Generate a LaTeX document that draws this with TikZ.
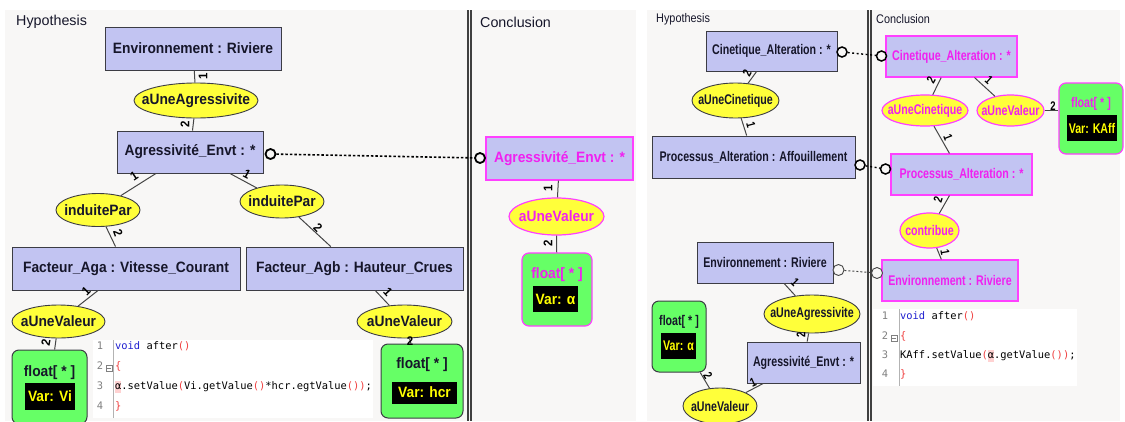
\documentclass[tikz,border=0pt]{standalone}
\usepackage{fontspec}
\setmainfont{Liberation Sans}
\setmonofont{DejaVu Sans Mono}
\newfontfamily\lfont[FakeStretch=0.92]{Liberation Sans}
\newfontfamily\rfont[FakeStretch=0.76]{Liberation Sans}
\newfontfamily\rlab[FakeStretch=0.87]{Liberation Sans}
\usetikzlibrary{shapes.geometric}
\definecolor{panel}{HTML}{F8F7F6}
\definecolor{boxfill}{HTML}{C2C4F2}
\definecolor{bdark}{HTML}{3C3C44}
\definecolor{tdark}{HTML}{16162A}
\definecolor{yel}{HTML}{FFFF3A}
\definecolor{grn}{HTML}{66FF66}
\definecolor{mag}{HTML}{FF40FF}
\definecolor{magtext}{HTML}{F020F0}
\definecolor{varyel}{HTML}{FFFF00}
\definecolor{bline}{HTML}{454545}
\definecolor{cblue}{HTML}{2020D0}
\definecolor{cred}{HTML}{F04040}
\definecolor{hlpink}{HTML}{FFD2D2}
\definecolor{lnum}{HTML}{808080}
\definecolor{sepcol}{HTML}{404040}
\newcommand{\zc}[1]{\makebox[0pt][c]{#1}}
\newcommand{\hlc}[1]{{\setlength{\fboxsep}{0pt}\colorbox{hlpink}{\rule[-3pt]{0pt}{12pt}#1}}}
\begin{document}
\begin{tikzpicture}[x=1pt,y=-1pt,
  hypbox/.style={rectangle, draw=bdark, fill=boxfill, line width=0.9pt, inner sep=0pt, text=tdark, font=\lfont\bfseries\fontsize{15}{18}\selectfont},
  rhypbox/.style={hypbox, font=\rfont\bfseries\fontsize{14}{17}\selectfont},
  conbox/.style={draw=mag, line width=1.2pt, text=magtext},
  hypell/.style={ellipse, draw=bdark, fill=yel, line width=0.9pt, inner sep=0pt, text=tdark, font=\lfont\bfseries\fontsize{15}{18}\selectfont},
  rhypell/.style={hypell, font=\rfont\bfseries\fontsize{14}{17}\selectfont},
  conell/.style={draw=mag, line width=1.2pt, text=magtext},
  flbox/.style={rectangle, rounded corners=7pt, draw=bdark, fill=grn, line width=1pt, inner sep=0pt},
  fltext/.style={inner sep=0pt, text=tdark, font=\lfont\bfseries\fontsize{15}{18}\selectfont},
  rfltext/.style={fltext, font=\rfont\bfseries\fontsize{14}{17}\selectfont},
  varbox/.style={rectangle, fill=black, text=varyel, inner sep=0pt, font=\lfont\bfseries\fontsize{15}{18}\selectfont},
  rvarbox/.style={varbox, font=\rfont\bfseries\fontsize{14}{17}\selectfont},
  port/.style={circle, draw=black, fill=panel, line width=1.8pt, minimum size=10pt, inner sep=0pt},
  rport/.style={port, line width=1.5pt},
  gport/.style={port, draw=bline, line width=0.9pt, minimum size=11pt},
  conn/.style={draw=bline, line width=1pt},
  dotL/.style={draw=black, line width=1.6pt, dash pattern=on 2.5pt off 2pt},
  dotR/.style={draw=black, line width=1.4pt, dash pattern=on 2pt off 2.5pt},
  dotG/.style={draw=bline, line width=1pt, dash pattern=on 2pt off 2pt},
  mult/.style={inner sep=0pt, text=black, font=\lfont\bfseries\fontsize{12.5}{12.5}\selectfont},
  rmult/.style={mult, font=\rfont\bfseries\fontsize{12.5}{12.5}\selectfont},
  title/.style={anchor=west, inner sep=0pt, text=tdark, font=\fontsize{14.3}{16}\selectfont},
  rtitle/.style={title, font=\rlab\fontsize{12.5}{14}\selectfont},
  codebg/.style={rectangle, fill=white, inner sep=0pt},
  codeln/.style={anchor=west, inner sep=0pt, text height=8pt, text depth=2.5pt, text=black, font=\ttfamily\fontsize{10.4}{12}\selectfont},
  lnumst/.style={inner sep=0pt, text height=8pt, text depth=2.5pt, text=lnum, font=\ttfamily\fontsize{10.4}{12}\selectfont},
  fold/.style={rectangle, draw=lnum, line width=0.6pt, minimum size=6pt, inner sep=0pt},
  codesep/.style={draw=lnum!60, line width=0.8pt}
]
\useasboundingbox (0,0) rectangle (1125,421);
% backgrounds
\fill[white] (0,0) rectangle (1125,421);
\fill[panel] (5,10) rectangle (636,421);
\fill[panel] (647,10) rectangle (1120,421);
\draw[sepcol, line width=1.2pt] (468,10) -- (468,421);
\draw[sepcol, line width=1.2pt] (471,10) -- (471,421);
\draw[sepcol, line width=1.2pt] (868,10) -- (868,421);
\draw[sepcol, line width=1.2pt] (871,10) -- (871,421);

% titles
\node[title] (hypL) at (16,22) {Hypothesis};
\node[title] (conL) at (480,22) {Conclusion};
\node[rtitle] (hypR) at (656,19) {Hypothesis};
\node[rtitle] (conR) at (876,19) {Conclusion};

% code blocks
\node[codebg, minimum width=280pt, minimum height=78pt] (codeL) at (233,379) {};
\draw[codesep] (113,340) -- (113,418);
\node[lnumst] (nL1) at (100,347) {1};
\node[lnumst] (nL2) at (100,367) {2};
\node[fold] (fL) at (109,368) {};
\draw[lnum, line width=0.6pt] ([xshift=1.3pt]fL.west) -- ([xshift=-1.3pt]fL.east);
\node[lnumst] (nL3) at (100,387) {3};
\node[lnumst] (nL4) at (100,407) {4};
\node[codeln] (cL1) at (115,347) {{\color{cblue}void} after{\color{cred}()}};
\node[codeln] (cL2) at (115,367) {{\color{cred}\{}};
\node[codeln] (cL3) at (115,387) {\hlc{α}.setValue{\color{cred}(}Vi.getValue{\color{cred}()}*hcr.egtValue{\color{cred}())};};
\node[codeln] (cL4) at (115,407) {{\color{cred}\}}};

\node[codebg, minimum width=204pt, minimum height=77pt] (codeR) at (975,347.5) {};
\draw[codesep] (899,309) -- (899,386);
\node[lnumst] (nR1) at (885,317) {1};
\node[lnumst] (nR2) at (885,337) {2};
\node[fold] (fR) at (894,338) {};
\draw[lnum, line width=0.6pt] ([xshift=1.3pt]fR.west) -- ([xshift=-1.3pt]fR.east);
\node[lnumst] (nR3) at (885,356) {3};
\node[lnumst] (nR4) at (885,375) {4};
\node[codeln] (cR1) at (900,317) {{\color{cblue}void} after{\color{cred}()}};
\node[codeln] (cR2) at (900,337) {{\color{cred}\{}};
\node[codeln] (cR3) at (900,356) {KAff.setValue{\color{cred}(}\hlc{α}.getValue{\color{cred}())};};
\node[codeln] (cR4) at (900,375) {{\color{cred}\}}};

% ===== left hypothesis =====
\node[hypbox, minimum width=176pt, minimum height=43pt] (envL) at (193,48.5) {Environnement : Riviere};
\node[hypell, minimum width=124pt, minimum height=35pt] (aggE1) at (196,100.5) {\zc{aUneAgressivite}};
\node[hypbox, minimum width=146pt, minimum height=42pt] (aggL) at (190,152) {Agressivité\_Envt : *};
\node[hypell, minimum width=84pt, minimum height=33pt] (indL) at (98,210) {\zc{induitePar}};
\node[hypell, minimum width=84pt, minimum height=33pt] (indR) at (282,201.5) {\zc{induitePar}};
\node[hypbox, minimum width=228pt, minimum height=43pt] (facA) at (126,268.5) {Facteur\_Aga : Vitesse\_Courant};
\node[hypbox, minimum width=217pt, minimum height=43pt] (facB) at (354.5,268.5) {Facteur\_Agb : Hauteur\_Crues};
\node[hypell, minimum width=93pt, minimum height=33pt] (valL) at (58.5,321.5) {\zc{aUneValeur}};
\node[hypell, minimum width=95pt, minimum height=33pt] (valR) at (404.5,321.5) {\zc{aUneValeur}};
\node[flbox, minimum width=75pt, minimum height=74pt] (flVi) at (49.5,387) {};
\node[fltext] (flViT) at (49.5,373) {float[ * ]};
\node[varbox, minimum width=50pt, minimum height=27pt] (varVi) at (50,396.5) {\zc{Var: Vi}};
\node[flbox, minimum width=82pt, minimum height=74pt] (flH) at (422,381) {};
\node[fltext] (flHT) at (422,365) {float[ * ]};
\node[varbox, minimum width=65pt, minimum height=22pt] (varH) at (424.5,392.5) {\zc{Var: hcr}};
\node[port] (pL) at (270.5,154) {};

% ===== left conclusion =====
\node[hypbox, conbox, minimum width=147pt, minimum height=43pt] (aggC) at (559.5,158.5) {Agressivité\_Envt : *};
\node[hypell, conell, minimum width=95pt, minimum height=37pt] (valC) at (556.5,216.5) {\zc{aUneValeur}};
\node[flbox, draw=mag, line width=1.2pt, minimum width=70pt, minimum height=73pt] (flA) at (557,289.5) {};
\node[fltext, text=magtext] (flAT) at (557,275) {float[ * ]};
\node[varbox, minimum width=45pt, minimum height=26pt] (varA) at (555.5,299) {\zc{Var: α}};
\node[port] (pC) at (480,158) {};

% ===== right hypothesis =====
\node[rhypbox, minimum width=131pt, minimum height=40pt] (cinH) at (771.5,51) {Cinetique\_Alteration : *};
\node[rhypell, minimum width=87pt, minimum height=35pt] (cinE) at (735.5,100.5) {\zc{aUneCinetique}};
\node[rhypbox, minimum width=203pt, minimum height=42pt] (procH) at (753.5,157) {Processus\_Alteration : Affouillement};
\node[rhypbox, minimum width=136pt, minimum height=41pt] (envH) at (765,262.5) {Environnement : Riviere};
\node[rhypell, minimum width=96pt, minimum height=38pt] (aggE2) at (812,314) {\zc{aUneAgressivite}};
\node[rhypbox, minimum width=113pt, minimum height=41pt] (aggH) at (803.5,362.5) {Agressivité\_Envt : *};
\node[flbox, minimum width=54pt, minimum height=71pt] (flA2) at (679,336.5) {};
\node[rfltext] (flA2T) at (679,322) {float[ * ]};
\node[rvarbox, minimum width=35pt, minimum height=26pt] (varA2) at (678.5,346) {\zc{Var: α}};
\node[rhypell, minimum width=74pt, minimum height=36pt] (valH) at (720,406) {\zc{aUneValeur}};
\node[rport] (p1) at (842,52) {};
\node[rport] (p2) at (860,165) {};
\node[gport] (p3) at (838.5,270) {};

% ===== right conclusion =====
\node[rhypbox, conbox, minimum width=131pt, minimum height=41pt] (cinC) at (951.5,56.5) {Cinetique\_Alteration : *};
\node[rhypell, conell, minimum width=86pt, minimum height=31pt] (cinCE) at (925,110.5) {\zc{aUneCinetique}};
\node[rhypell, conell, minimum width=67pt, minimum height=31pt] (valCE) at (1010.5,110.5) {\zc{aUneValeur}};
\node[flbox, draw=mag, line width=1.2pt, minimum width=64pt, minimum height=71pt] (flK) at (1091,118.5) {};
\node[rfltext, text=magtext] (flKT) at (1091,104) {float[ * ]};
\node[rvarbox, minimum width=50pt, minimum height=26pt] (varK) at (1092,128) {\zc{Var: KAff}};
\node[rhypbox, conbox, minimum width=141pt, minimum height=41pt] (procC) at (961.5,174.5) {Processus\_Alteration : *};
\node[rhypell, conell, minimum width=59pt, minimum height=35pt] (contE) at (929.5,230.5) {\zc{contribue}};
\node[rhypbox, conbox, minimum width=136pt, minimum height=41pt] (envC) at (950,280.5) {Environnement : Riviere};
\node[rport] (q1) at (881.5,56) {};
\node[rport] (q2) at (885.5,169) {};
\node[gport] (q3) at (877,273) {};

% ===== connectors =====
\draw[conn] (envL) -- (aggE1);
\draw[conn] (aggE1) -- (aggL);
\draw[conn] (aggL) -- (indL);
\draw[conn] (aggL) -- (indR);
\draw[conn] (indL) -- (facA);
\draw[conn] (indR) -- (facB);
\draw[conn] (facA) -- (valL);
\draw[conn] (valL) -- (flVi);
\draw[conn] (facB) -- (valR);
\draw[conn] (valR) -- (flH);
\draw[conn] (aggC) -- (valC);
\draw[conn] (valC) -- (flA);
\draw[dotL] (pL) -- (pC);

\draw[conn] (cinH) -- (cinE);
\draw[conn] (cinE) -- (procH);
\draw[conn] (envH) -- (aggE2);
\draw[conn] (aggE2) -- (aggH);
\draw[conn] (aggH) -- (valH);
\draw[conn] (flA2) -- (valH);
\draw[conn] (cinC) -- (cinCE);
\draw[conn] (cinC) -- (valCE);
\draw[conn] (valCE.east) -- (valCE.east -| flK.west);
\draw[conn] (cinCE) -- (procC);
\draw[conn] (procC) -- (contE);
\draw[conn] (contE) -- (envC);
\draw[dotR] (p1) -- (q1);
\draw[dotR] (p2) -- (q2);
\draw[dotG] (p3) -- (q3);

% ===== multiplicities =====
\node[mult, rotate=90] (mA) at (203,76) {1};
\node[mult, rotate=90] (mB) at (185,124) {2};
\node[mult, rotate=34] (mC) at (134,176) {1};
\node[mult, rotate=-28] (mD) at (247,174) {1};
\node[mult, rotate=-70] (mE) at (118,233) {2};
\node[mult, rotate=-46] (mF) at (318,228) {2};
\node[mult, rotate=45] (mG) at (86,291) {1};
\node[mult, rotate=80] (mH) at (46,343) {2};
\node[mult, rotate=-48] (mI) at (388,292) {1};
\node[mult] (mJ) at (410,341) {2};
\node[mult, rotate=90] (mK) at (548,188) {1};
\node[mult, rotate=90] (mL) at (548,243) {2};
\node[rmult, rotate=62] (mM) at (747,73) {2};
\node[rmult, rotate=-75] (mN) at (751,125) {1};
\node[rmult, rotate=-45] (mO) at (795,282) {1};
\node[rmult, rotate=90] (mP) at (801,335) {2};
\node[rmult, rotate=24] (mQ) at (753,382) {1};
\node[rmult, rotate=-61] (mR) at (708,376) {2};
\node[rmult, rotate=61] (mS) at (931,80) {2};
\node[rmult, rotate=-42] (mT) at (989,80) {1};
\node[rmult] (mU) at (1053,106) {2};
\node[rmult, rotate=-69] (mV) at (948,137) {1};
\node[rmult, rotate=72] (mW) at (938,200) {2};
\node[rmult, rotate=-80] (mX) at (945,252) {1};
\end{tikzpicture}
\end{document}
